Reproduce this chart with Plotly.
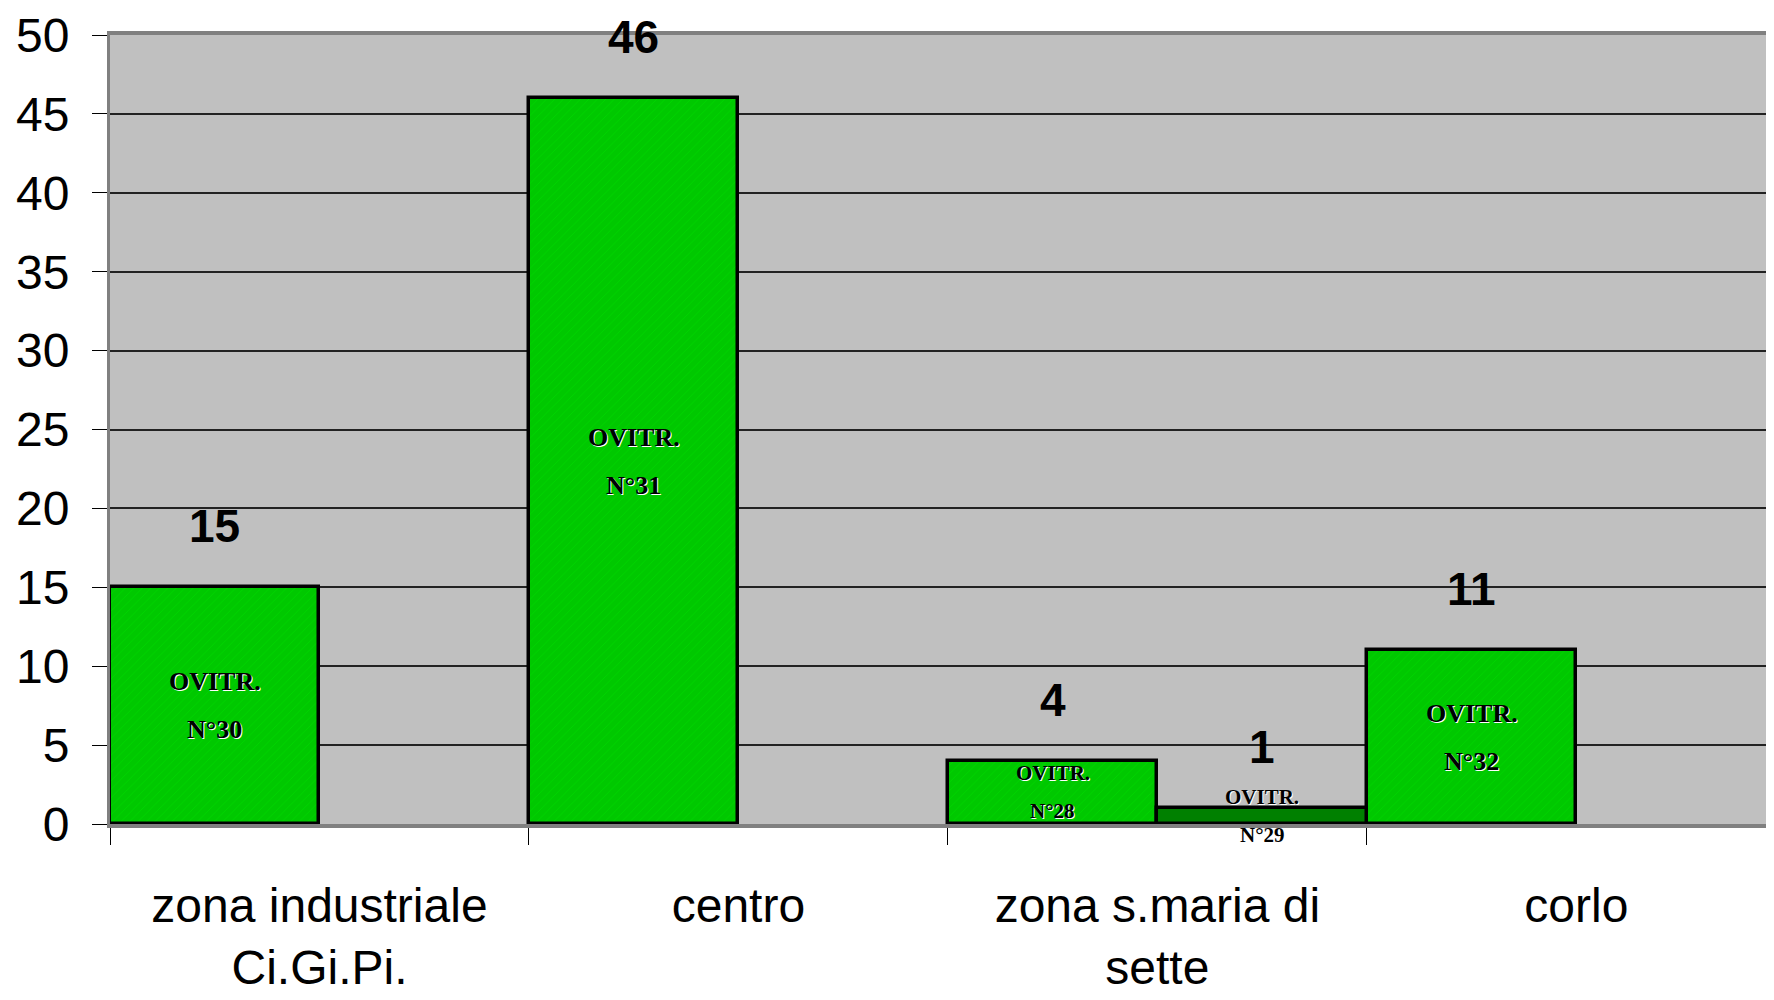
import plotly.graph_objects as go

# dati
CATEGORIE = ["zona industriale<br>Ci.Gi.Pi.", "centro", "zona s.maria di<br>sette", "corlo"]
SERIE_A = [15, 46, 4, 11]
SERIE_B = [None, None, 1, None]
OVITR_A = ["N°30", "N°31", "N°28", "N°32"]
OVITR_B = [None, None, "N°29", None]

SANS = "Liberation Sans Narrow, Arial Narrow, Liberation Sans, Arial, sans-serif"
SERIF = "Liberation Serif, Times New Roman, serif"

fig = go.Figure()

fig.add_trace(go.Bar(
    x=CATEGORIE, y=SERIE_A, name="A",
    marker=dict(color="#00C800", line=dict(color="black", width=3.5),
                pattern=dict(shape="/", fgcolor="#00E400", size=6, solidity=0.15)),
))
fig.add_trace(go.Bar(
    x=CATEGORIE, y=SERIE_B, name="B",
    marker=dict(color="#008000", line=dict(color="black", width=3.5)),
))

annotations = []
for serie, nomi, dx in [(SERIE_A, OVITR_A, -0.25), (SERIE_B, OVITR_B, 0.25)]:
    for i, (v, n) in enumerate(zip(serie, nomi)):
        if v is None:
            continue
        # valore sopra la barra
        annotations.append(dict(x=i + dx, y=v, xref="x", yref="y", text="<b>%d</b>" % v,
                                showarrow=False, yshift=61, yanchor="middle",
                                font=dict(family=SANS, size=46, color="black")))
        # etichetta ovitrappola al centro
        fs = 26 if v >= 10 else 21
        gap = 24 if v >= 10 else 19
        for txt, sh in [("<b>OVITR.</b>", gap), ("<b>%s</b>" % n, -gap)]:
            annotations.append(dict(x=i + dx, y=v / 2, xref="x", yref="y", text=txt,
                                    showarrow=False, yshift=sh, yanchor="middle",
                                    font=dict(family=SERIF, size=fs, color="black",
                                              shadow="1px 1px 0px white")))

fig.update_layout(
    width=1774, height=1000,
    margin=dict(l=102, r=0, t=27, b=184),
    paper_bgcolor="white",
    plot_bgcolor="#C0C0C0",
    barmode="group", bargap=0, bargroupgap=0,
    showlegend=False,
    annotations=annotations,
    xaxis=dict(
        range=[-0.5, 3.491], tickson="boundaries", ticks="outside", ticklen=17,
        tickcolor="black", tickwidth=1, showgrid=False, automargin=False,
        showline=True, linecolor="#808080", linewidth=4, mirror=True,
        tickfont=dict(family=SANS, size=48, color="black"),
        ticklabelstandoff=36,
    ),
    yaxis=dict(
        range=[0, 50], dtick=5, ticks="outside", ticklen=15, tickcolor="black", tickwidth=1,
        showgrid=True, gridcolor="#222222", gridwidth=1.5, zeroline=False, automargin=False,
        showline=True, linecolor="#808080", linewidth=3,
        tickfont=dict(family=SANS, size=48, color="black"),
        ticklabelstandoff=13,
    ),
)

fig.write_html("out.html")
